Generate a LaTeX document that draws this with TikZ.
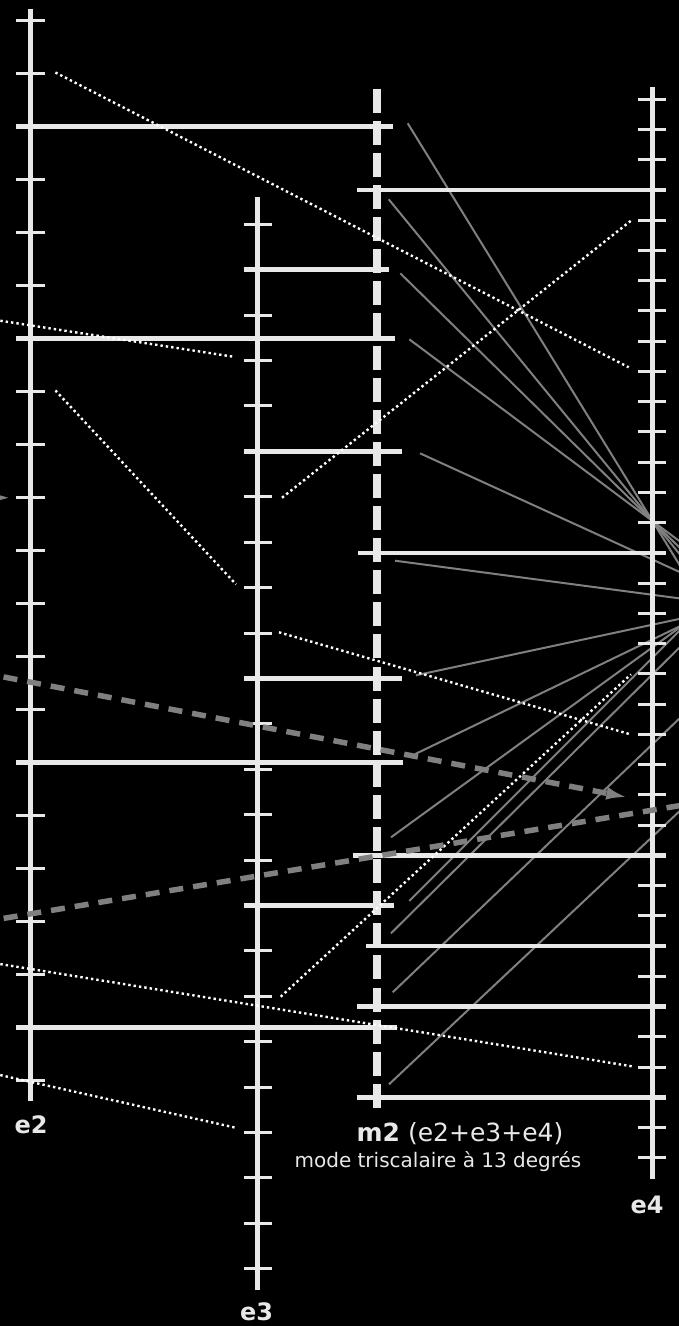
\documentclass[tikz,border=0pt]{standalone}
\usepackage{fontspec}
\setmainfont{DejaVu Sans}
\usetikzlibrary{arrows.meta}
\definecolor{chalk}{HTML}{E8E8E8}
\definecolor{slate}{HTML}{808080}

\begin{document}
\begin{tikzpicture}[x=1pt,y=-1pt,
  scaleaxis/.style={draw=chalk,line width=5pt},
  tickmark/.style={draw=chalk,line width=3pt},
  degree/.style={draw=chalk,line width=4.5pt},
  modeaxis/.style={draw=chalk,line width=8pt,dash pattern=on 24pt off 8.1pt},
  mapdot/.style={draw=white,line width=2.4pt,dash pattern=on 2.4pt off 3pt},
  fan/.style={draw=slate,line width=2pt},
  drift/.style={draw=slate,line width=5.5pt,dash pattern=on 14pt off 10pt},
  drifttip/.style={-{Latex[length=21pt,width=13pt]}},
  scalelabel/.style={font=\fontsize{24}{28}\selectfont\bfseries,text=chalk,inner sep=0pt,anchor=base},
  modelabel/.style={font=\fontsize{25}{30}\selectfont,text=chalk,inner sep=0pt,anchor=base},
  modesub/.style={font=\fontsize{20}{24}\selectfont,text=chalk,inner sep=0pt,anchor=base},
]
\fill[black] (0,0) rectangle (679,1326);
\useasboundingbox (0,0) rectangle (679,1326);
\begin{scope}
\clip (0,0) rectangle (679,1326);

% fan towards the right
\coordinate (pa) at (652.5,521);
\coordinate (s1) at (407.7,123.3);
\coordinate (s2) at (388.7,199.3);
\coordinate (s3) at (400.3,273.3);
\coordinate (s4) at (409.3,339.3);
\foreach \s in {s1,s2,s3,s4} \draw[fan,shorten >=-60pt] (\s) -- (pa);
\coordinate (s5) at (420,453.3);   \coordinate (t5) at (679,571.7);
\coordinate (s6) at (395,560.7);   \coordinate (t6) at (679,598.3);
\coordinate (s7) at (416,675.3);   \coordinate (t7) at (679,619);
\coordinate (s8) at (415.3,754);   \coordinate (t8) at (679,626.7);
\coordinate (s9) at (391,837.3);   \coordinate (t9) at (679,628);
\coordinate (s10) at (409.3,901);  \coordinate (t10) at (679,631.3);
\coordinate (s11) at (391,933.3);  \coordinate (t11) at (679,648);
\coordinate (s12) at (392.7,992.3); \coordinate (t12) at (679,718.9);
\coordinate (s13) at (389,1084.3); \coordinate (t13) at (679,811.7);
\foreach \n in {5,...,13} \draw[fan,shorten >=-20pt] (s\n) -- (t\n);

% degrees of e2, e3 and e4 carried onto m2
\foreach \k/\xe in {2/392.7,6/395,14/402.7,19/397.3}
  \draw[degree] (16,{20.7+53*\k}) -- (\xe,{20.7+53*\k});
\foreach \k/\xe in {1/388.7,5/402,10/402,15/394.3}
  \draw[degree] (243.5,{224.3+45.41*\k}) -- (\xe,{224.3+45.41*\k});
\foreach \k/\xs in {3/356.7,15/358.3,25/352.7,28/366,30/356.7,33/356.7}
  \draw[degree] (\xs,{99+30.25*\k}) -- (666,{99+30.25*\k});

% scales
\draw[scaleaxis] (30.3,8.6) -- (30.3,1101);
\foreach \k in {0,...,20} \draw[tickmark] (16,{20.7+53*\k}) -- (44.5,{20.7+53*\k});
\draw[scaleaxis] (257.8,197) -- (257.8,1290);
\foreach \k in {0,...,23} \draw[tickmark] (243.5,{224.3+45.41*\k}) -- (272,{224.3+45.41*\k});
\draw[scaleaxis] (652,86.7) -- (652,1179.3);
\foreach \k in {0,...,35} \draw[tickmark] (638,{99+30.25*\k}) -- (666,{99+30.25*\k});
\draw[modeaxis] (376.7,88.7) -- (376.7,1111);

% dotted mappings
\coordinate (d1a) at (55.4,72.5);   \coordinate (d1b) at (628.7,367.3);
\coordinate (d2a) at (-5,319.9);    \coordinate (d2b) at (233.3,356.7);
\coordinate (d3a) at (55.4,390.4);  \coordinate (d3b) at (236,584.3);
\coordinate (d4a) at (282,497.7);   \coordinate (d4b) at (632.7,219.3);
\coordinate (d5a) at (279,632.3);   \coordinate (d5b) at (629.3,734);
\coordinate (d6a) at (280.7,996.7); \coordinate (d6b) at (631,674.3);
\coordinate (d7a) at (-5,963.2);    \coordinate (d7b) at (634.3,1066.7);
\coordinate (d8a) at (-5,1073.9);   \coordinate (d8b) at (235.7,1127.7);
\foreach \n in {1,...,8} \draw[mapdot] (d\n a) -- (d\n b);

% dashed drifts
\coordinate (g0a) at (-60,497.7);  \coordinate (g0b) at (11,497.7);
\coordinate (g1a) at (-20,672.4);  \coordinate (g1b) at (627.3,797.3);
\coordinate (g2a) at (-20,922.3);  \coordinate (g2b) at (700,802.2);
\draw[drift,drifttip] (g0a) -- (g0b);
\draw[drift,drifttip] (g1a) -- (g1b);
\draw[drift] (g2a) -- (g2b);

% labels
\node[scalelabel] (e2lab) at (31,1133) {e2};
\node[scalelabel] (e3lab) at (256.5,1320.7) {e3};
\node[scalelabel] (e4lab) at (647,1213.3) {e4};
\node[modelabel] (m2lab) at (460,1141.7) {\textbf{m2} (e2+e3+e4)};
\node[modesub] (m2sub) at (438,1167.3) {mode triscalaire à 13 degrés};
\end{scope}
\end{tikzpicture}
\end{document}
